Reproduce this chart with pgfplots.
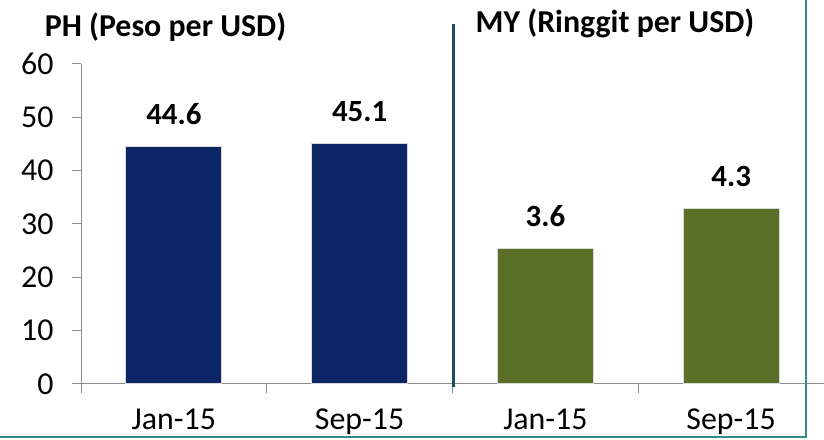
\documentclass[border=0pt]{standalone}
\usepackage{pgfplots}
\pgfplotsset{compat=1.18}
\usepackage{fontspec}
\setmainfont{Carlito}
\definecolor{navy}{RGB}{12,38,102}
\definecolor{olive}{RGB}{90,112,38}
\definecolor{sepc}{RGB}{24,80,98}
\definecolor{framec}{RGB}{50,140,140}
\begin{document}
\begin{tikzpicture}[x=1bp,y=1bp]
\useasboundingbox (0,0) rectangle (824,440);
\begin{axis}[
  at={(81bp,56bp)}, anchor=south west,
  scale only axis, width=743bp, height=320bp,
  xmin=-0.5, xmax=3.5, ymin=0, ymax=60,
  axis x line=bottom, axis y line=left,
  axis line style={-, draw=black!45, line width=1bp},
  ytick={0,10,...,60},
  xtick={0,1,2,3}, xticklabels={Jan-15,Sep-15,Jan-15,Sep-15},
  minor xtick={-0.5,0.5,1.5,2.5,3.5},
  tick align=outside,
  major tick length=9bp, minor tick length=9bp,
  tick style={draw=black!45, line width=1bp},
  major x tick style={draw=none},
  ticklabel style={font=\fontsize{32}{38}\selectfont},
  yticklabel style={xshift=-15bp},
  xticklabel style={yshift=-12bp},
  /pgf/number format/assume math mode=true,
  clip=false,
]
\addplot[ybar, bar width=96bp, fill=navy, draw=black!15, line width=1bp,
  point meta=explicit symbolic, nodes near coords,
  every node near coord/.append style={font=\bfseries\fontsize{31}{36}\selectfont, black, anchor=south, inner sep=0pt, yshift=21bp}]
  coordinates {(0,44.6) [44.6] (1,45.1) [45.1]};
\end{axis}
\begin{axis}[
  at={(81bp,56bp)}, anchor=south west,
  scale only axis, width=743bp, height=320bp,
  xmin=-0.5, xmax=3.5, ymin=1.225, ymax=6.83,
  hide axis, clip=false,
]
\addplot[ybar, bar width=96bp, fill=olive, draw=black!15, line width=1bp,
  point meta=explicit symbolic, nodes near coords,
  every node near coord/.append style={font=\bfseries\fontsize{31}{36}\selectfont, black, anchor=south, inner sep=0pt, yshift=21bp}]
  coordinates {(2,3.6) [3.6] (3,4.3) [4.3]};
\end{axis}
\draw[sepc, line width=3bp] (453,53) -- (453,416);
\draw[framec, line width=2bp] (0,3) -- (806,3) -- (806,440);
\node[font=\bfseries\fontsize{32}{38}\selectfont] at (165.5,413) {PH (Peso per USD)};
\node[font=\bfseries\fontsize{32}{38}\selectfont] at (615,417) {MY (Ringgit per USD)};
\end{tikzpicture}
\end{document}
